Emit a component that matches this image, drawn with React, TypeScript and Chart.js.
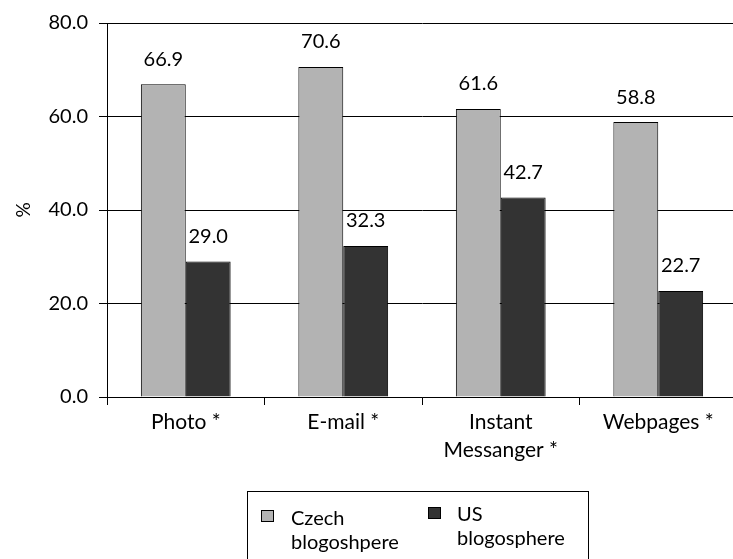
import React, { useEffect, useRef } from "react";
import { Chart, registerables } from "chart.js";

Chart.register(...registerables);

const categories: (string | string[])[] = ["Photo *", "E-mail *", ["Instant", "Messanger *"], "Webpages *"];
const czechValues = [66.9, 70.6, 61.6, 58.8];
const usValues = [29.0, 32.3, 42.7, 22.7];
const seriesNames = [["Czech", "blogoshpere"], ["US", "blogosphere"]];
const yTicks = [0, 20, 40, 60, 80];

const FONT = "Lato, 'Noto Sans', sans-serif";

const valueLabels = {
  id: "valueLabels",
  afterDatasetsDraw(chart: any) {
    const ctx = chart.ctx;
    ctx.save();
    ctx.font = `20px ${FONT}`;
    ctx.fillStyle = "#000";
    ctx.textAlign = "center";
    ctx.textBaseline = "middle";
    chart.data.datasets.forEach((ds: any, i: number) => {
      const meta = chart.getDatasetMeta(i);
      meta.data.forEach((bar: any, j: number) => {
        ctx.fillText(Number(ds.data[j]).toFixed(1), bar.x, bar.y - 25);
      });
    });
    ctx.restore();
  },
};

const boxLegend = {
  id: "boxLegend",
  afterDraw(chart: any) {
    const ctx = chart.ctx;
    ctx.save();
    ctx.strokeStyle = "#000";
    ctx.lineWidth = 1;
    ctx.strokeRect(247.5, 491.5, 341, 80);
    ctx.font = `20px ${FONT}`;
    ctx.textBaseline = "alphabetic";
    ctx.textAlign = "left";
    const items = [
      { sx: 261, sy: 510, tx: 291, ty: 525, color: "#b3b3b3" },
      { sx: 428, sy: 507, tx: 457, ty: 521, color: "#333333" },
    ];
    items.forEach((it, i) => {
      ctx.fillStyle = it.color;
      ctx.fillRect(it.sx, it.sy, 13, 12);
      ctx.strokeRect(it.sx + 0.5, it.sy + 0.5, 12, 11);
      ctx.fillStyle = "#000";
      seriesNames[i].forEach((line, k) => {
        ctx.fillText(line, it.tx, it.ty + k * 24);
      });
    });
    ctx.restore();
  },
};

export default function App() {
  const ref = useRef<HTMLCanvasElement>(null);
  useEffect(() => {
    if (!ref.current) return;
    const chart = new Chart(ref.current, {
      type: "bar",
      data: {
        labels: categories,
        datasets: [
          {
            label: "Czech blogoshpere",
            data: czechValues,
            backgroundColor: "#b3b3b3",
            borderColor: "#000",
            borderWidth: 1,
            barPercentage: 1,
            categoryPercentage: 0.57,
          },
          {
            label: "US blogosphere",
            data: usValues,
            backgroundColor: "#333333",
            borderColor: "#000",
            borderWidth: 1,
            barPercentage: 1,
            categoryPercentage: 0.57,
          },
        ],
      },
      options: {
        responsive: false,
        animation: false,
        layout: { padding: { left: 0, right: 8, top: 21, bottom: 0 } },
        plugins: { legend: { display: false }, tooltip: { enabled: false } },
        scales: {
          x: {
            grid: { drawOnChartArea: false, tickLength: 8, color: "#000", offset: true },
            border: { color: "#000", width: 1 },
            ticks: { color: "#000", font: { family: FONT, size: 21, lineHeight: 1.3 }, padding: 4, maxRotation: 0 },
            afterFit: (s: any) => { s.height = 162; },
          },
          y: {
            min: 0,
            max: 80,
            afterBuildTicks: (s: any) => { s.ticks = yTicks.map((v) => ({ value: v })); },
            grid: { color: "#000", tickLength: 8 },
            border: { color: "#000", width: 1 },
            ticks: {
              color: "#000",
              font: { family: FONT, size: 20 },
              padding: 11,
              callback: (v: any) => Number(v).toFixed(1),
            },
            title: { display: true, text: "%", color: "#000", font: { family: FONT, size: 19 }, padding: { top: 12, bottom: 0 } },
            afterFit: (s: any) => { s.width = 107; },
          },
        },
      },
      plugins: [valueLabels, boxLegend],
    });
    return () => chart.destroy();
  }, []);
  return (
    <div style={{ position: "fixed", left: 0, top: 0, width: 733, height: 559, overflow: "hidden", background: "#fff" }}>
      <canvas ref={ref} width={745} height={559} style={{ display: "block" }} />
    </div>
  );
}
